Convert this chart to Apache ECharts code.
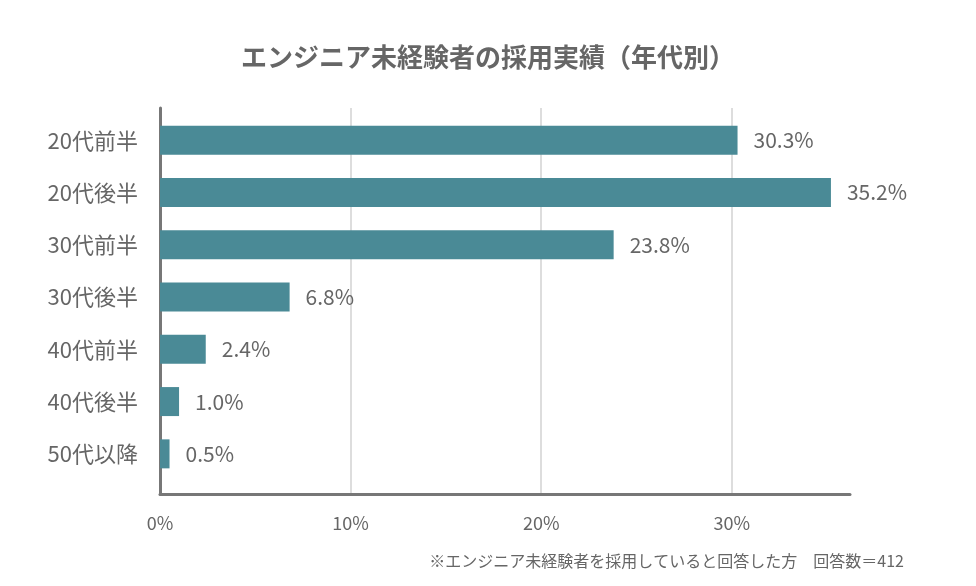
<!DOCTYPE html>
<html>
<head>
<meta charset="utf-8">
<script src="https://cdn.jsdelivr.net/npm/echarts@6/dist/echarts.min.js"></script>
<style>html,body{margin:0;padding:0;background:#fff;}#c{width:976px;height:586px;}</style>
</head>
<body>
<div id="c"></div>
<script>
const titleText = 'エンジニア未経験者の採用実績（年代別）';
const noteText = '※エンジニア未経験者を採用していると回答した方　回答数＝412';
const categories = ['20代前半','20代後半','30代前半','30代後半','40代前半','40代後半','50代以降'];
const values = [30.3, 35.2, 23.8, 6.8, 2.4, 1.0, 0.5];
const xMax = 36.2;
const xInterval = 10;

const FONT = '"Noto Sans CJK JP", "Noto Sans", sans-serif';
const chart = echarts.init(document.getElementById('c'), null, {renderer: 'canvas'});
chart.setOption({
  animation: false,
  backgroundColor: '#fff',
  textStyle: {fontFamily: FONT},
  title: [
    {text: titleText, left: 'center', top: 39,
     textStyle: {fontFamily: FONT, fontSize: 26, fontWeight: 'bold', color: '#666'}},
    {text: noteText, right: 67, top: 548,
     textStyle: {fontFamily: FONT, fontSize: 16, fontWeight: 'normal', color: '#666'}}
  ],
  grid: [
    {left: 160, width: 690, top: 108, height: 386, containLabel: false},
    {left: 160, width: 690, top: 114, height: 366, containLabel: false}
  ],
  xAxis: [
    {type: 'value', gridIndex: 0, min: 0, max: xMax, interval: xInterval,
     axisLine: {show: true, lineStyle: {color: '#777', width: 3}},
     axisTick: {show: false},
     splitLine: {show: true, showMinLine: false, showMaxLine: false, lineStyle: {color: '#ddd', width: 2}},
     axisLabel: {show: true, showMaxLabel: false, margin: 20, formatter: '{value}%',
                 fontFamily: FONT, fontSize: 18, color: '#666'}},
    {type: 'value', gridIndex: 1, min: 0, max: xMax, show: false}
  ],
  yAxis: [
    {type: 'value', gridIndex: 0, min: 0, max: 1,
     axisLine: {show: true, lineStyle: {color: '#777', width: 3}},
     axisTick: {show: false}, axisLabel: {show: false}, splitLine: {show: false}},
    {type: 'category', gridIndex: 1, data: categories, inverse: true,
     axisLine: {show: false}, axisTick: {show: false}, splitLine: {show: false},
     axisLabel: {margin: 22, fontFamily: FONT, fontSize: 22, color: '#666'}}
  ],
  series: [{
    type: 'bar', xAxisIndex: 1, yAxisIndex: 1, data: values,
    barWidth: 29,
    itemStyle: {color: '#4a8a96'},
    label: {show: true, position: 'right', distance: 16,
            formatter: p => p.value.toFixed(1) + '%',
            fontFamily: FONT, fontSize: 21, color: '#666'}
  }]
});
</script>
</body>
</html>
